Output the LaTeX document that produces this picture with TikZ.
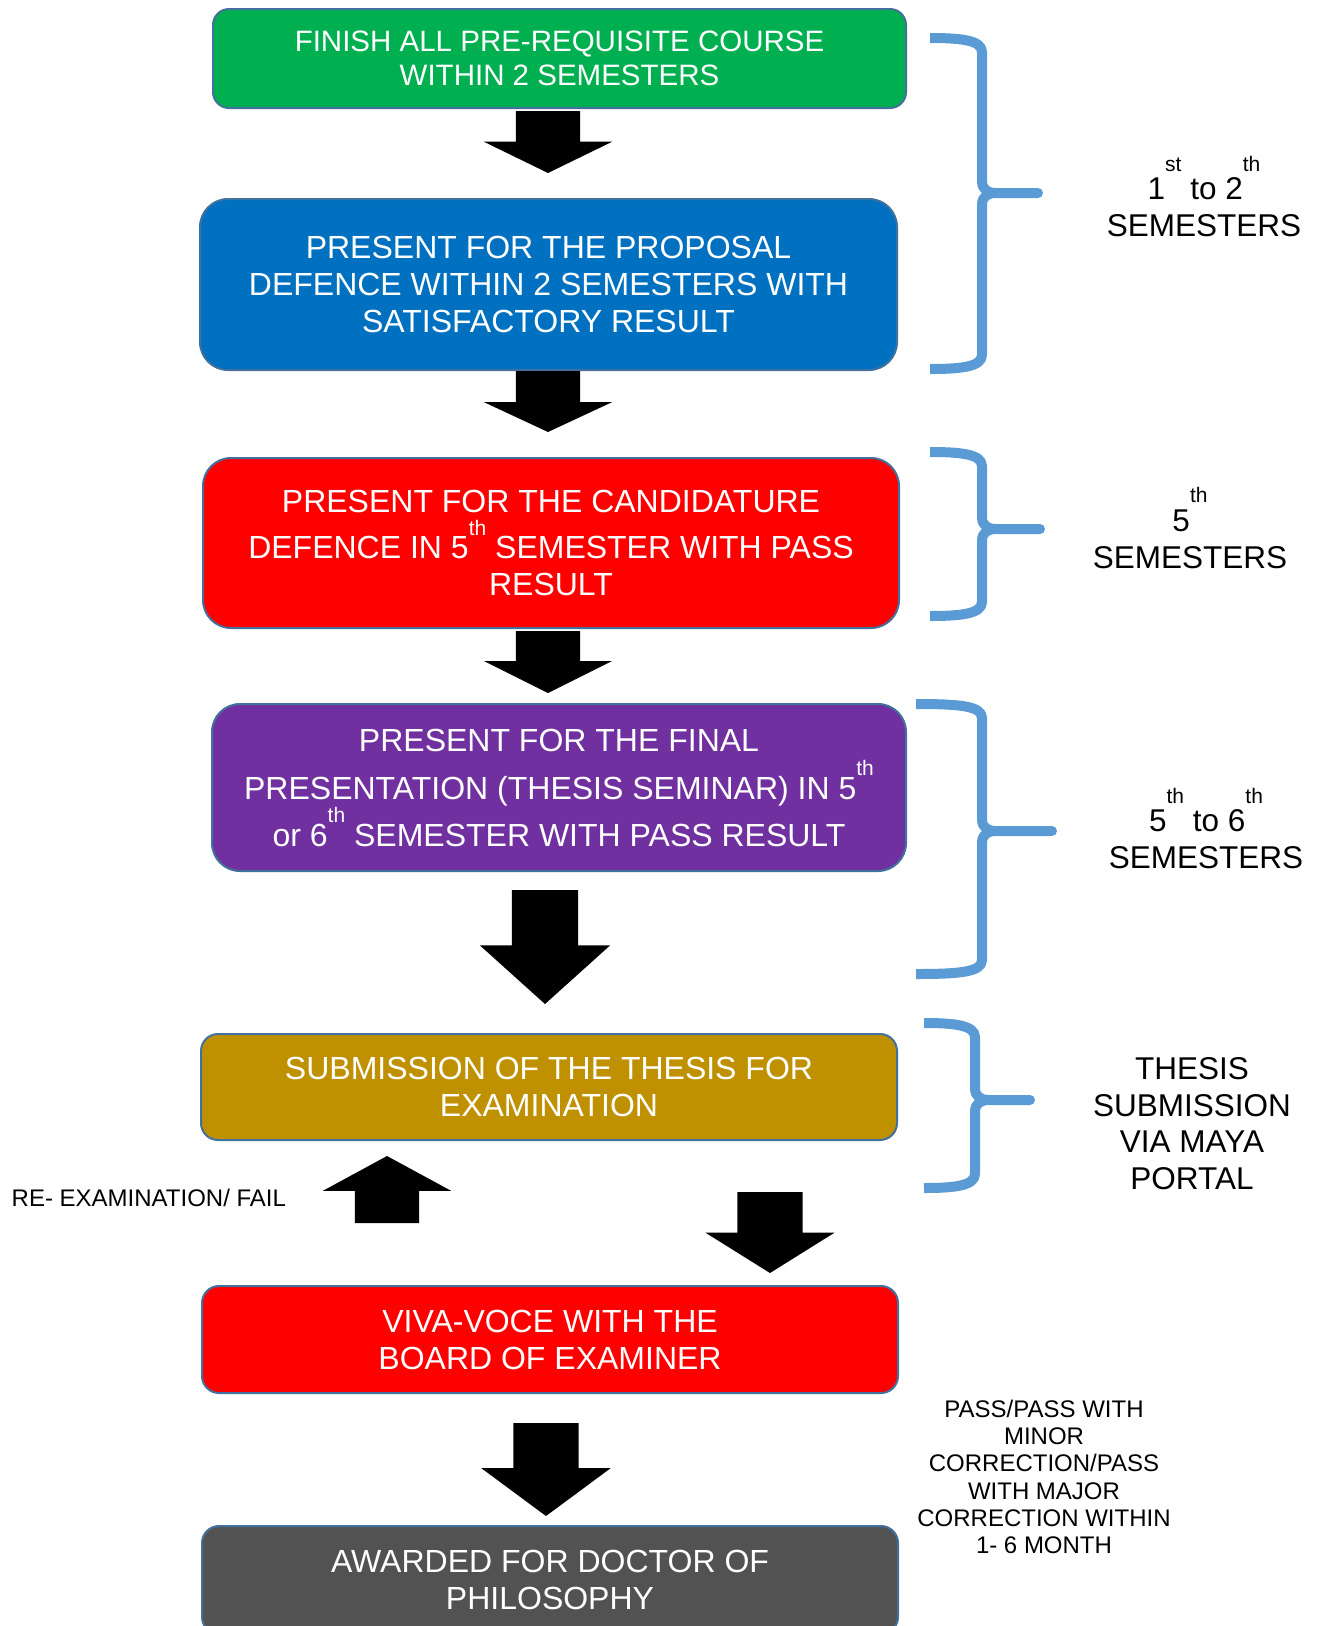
\documentclass[tikz,border=0pt]{standalone}
\usepackage{fontspec}
\setmainfont{Liberation Sans}
\usetikzlibrary{positioning,shapes.arrows}
\definecolor{stepgreen}{HTML}{00B050}
\definecolor{stepblue}{HTML}{0070C0}
\definecolor{stepred}{HTML}{FF0000}
\definecolor{steppurple}{HTML}{7030A0}
\definecolor{stepgold}{HTML}{BF9000}
\definecolor{stepgray}{HTML}{525252}
\definecolor{boxline}{HTML}{41719C}
\definecolor{bracecol}{HTML}{5B9BD5}
\newcommand\ordsup[2][0.72em]{\smash{\raisebox{#1}{\fontsize{21}{21}\selectfont #2}}}

\begin{document}
\begin{tikzpicture}[x=1pt,y=-1pt,
    stagebox/.style={rectangle,draw=boxline,line width=2pt,text=white,align=center,inner sep=0pt,outer sep=0pt,minimum width=696pt,font=\fontsize{32}{37}\selectfont},
    blockarrow/.style={single arrow,fill=black,inner sep=0pt,outer sep=0pt,minimum width=128pt,single arrow head extend=32pt,shape border rotate=270},
    semBrace/.style={draw=bracecol,line width=10pt,line join=round},
    sidenote/.style={align=center,inner sep=0pt,font=\fontsize{31.5}{37}\selectfont}]
  \useasboundingbox (0,0) rectangle (1322,1626);

  % stages
  \node[stagebox,fill=stepgreen,minimum width=693pt,minimum height=99pt,rounded corners=16pt,font=\fontsize{29.5}{34}\selectfont](Prereq) at (559.5,58.5) {FINISH ALL PRE-REQUISITE COURSE\\WITHIN 2 SEMESTERS};
  \node[stagebox,fill=stepblue,below=91pt of Prereq,xshift=-11pt,minimum width=697pt,minimum height=171pt,rounded corners=28pt](Proposal) {PRESENT FOR THE PROPOSAL\\DEFENCE WITHIN 2 SEMESTERS WITH\\SATISFACTORY RESULT};
  \node[stagebox,fill=stepred,below=88pt of Proposal,xshift=2.5pt,minimum height=170pt,rounded corners=28pt](Candidature) {PRESENT FOR THE CANDIDATURE\\[9pt]DEFENCE IN 5\ordsup{th} SEMESTER WITH PASS\\RESULT};
  \node[stagebox,fill=steppurple,below=76pt of Candidature,xshift=8pt,minimum width=694pt,minimum height=167pt,rounded corners=28pt](FinalPres) {PRESENT FOR THE FINAL\\[11pt]PRESENTATION (THESIS SEMINAR) IN 5\ordsup{th}\\[10pt]or 6\ordsup{th} SEMESTER WITH PASS RESULT};
  \node[stagebox,fill=stepgold,below=163pt of FinalPres,xshift=-10pt,minimum height=106pt,rounded corners=17pt](Submission) {SUBMISSION OF THE THESIS FOR\\EXAMINATION};
  \node[stagebox,fill=stepred,below=146pt of Submission,xshift=1pt,minimum height=107pt,rounded corners=17pt](VivaVoce) {VIVA-VOCE WITH THE\\BOARD OF EXAMINER};
  \node[stagebox,fill=stepgray,below=133pt of VivaVoce,minimum height=108pt,rounded corners=17pt](Awarded) {AWARDED FOR DOCTOR OF\\PHILOSOPHY};

  % block arrows (the rule gives the shaft its width)
  \node[blockarrow,anchor=tail,minimum height=62pt,single arrow tip angle=128](ArrowA) at ([xshift=-11.5pt,yshift=-3pt]Prereq.south) {\rule{64pt}{0pt}};
  \node[blockarrow,anchor=tail,minimum height=61pt,single arrow tip angle=130](ArrowB) at ([xshift=-0.5pt,yshift=-1pt]Proposal.south) {\rule{64pt}{0pt}};
  \node[blockarrow,anchor=tail,minimum height=62pt,single arrow tip angle=127](ArrowC) at ([xshift=-3pt,yshift=-3pt]Candidature.south) {\rule{64pt}{0pt}};
  \node[blockarrow,anchor=tail,minimum height=114pt,minimum width=126pt,single arrow tip angle=96](ArrowD) at ([xshift=-14pt,yshift=-19pt]FinalPres.south) {\rule{66pt}{0pt}};
  \node[blockarrow,anchor=tip,shape border rotate=90,minimum height=67pt,minimum width=126pt,single arrow tip angle=123](ArrowFail) at ([xshift=-162pt,yshift=-16pt]Submission.south) {\rule{64pt}{0pt}};
  \node[blockarrow,anchor=tail,minimum height=81pt,minimum width=127pt,single arrow tip angle=116](ArrowViva) at ([xshift=221pt,yshift=-52pt]Submission.south) {\rule{65pt}{0pt}};
  \node[blockarrow,anchor=tail,minimum height=93pt,single arrow tip angle=107](ArrowE) at ([xshift=-4pt,yshift=-30pt]VivaVoce.south) {\rule{65pt}{0pt}};

  % braces and notes
  \foreach \xa/\xb/\xc/\ya/\ym/\yb in {930/982/1038/38/193/369, 930/982/1040/452/529/616, 916/982/1052/704/831/974, 924/975/1030/1023/1100/1188}
    \draw[semBrace] (\xa,\ya) .. controls (\xb-22,\ya) and (\xb,\ya+2) .. (\xb,\ya+14) -- (\xb,\ym-12)
       .. controls (\xb,\ym-3) and (\xb+6,\ym) .. (\xb+14,\ym) -- (\xc,\ym) -- (\xb+14,\ym)
       .. controls (\xb+6,\ym) and (\xb,\ym+3) .. (\xb,\ym+12) -- (\xb,\yb-14)
       .. controls (\xb,\yb-2) and (\xb-22,\yb) .. (\xa,\yb);

  \node[sidenote](SemOneTwo) at (1204,207) {1\ordsup[0.9em]{st} to 2\ordsup[0.9em]{th}\\SEMESTERS};
  \node[sidenote](SemFive) at (1190,539) {5\ordsup[0.9em]{th}\\SEMESTERS};
  \node[sidenote](SemFiveSix) at (1206,839.5) {5\ordsup[0.9em]{th} to 6\ordsup[0.9em]{th}\\SEMESTERS};
  \node[sidenote,font=\fontsize{31.5}{36.7}\selectfont](Portal) at (1192,1123.7) {THESIS\\SUBMISSION\\VIA MAYA\\PORTAL};
  \node[sidenote,font=\fontsize{24}{27.3}\selectfont](PassNote) at (1044,1477) {PASS/PASS WITH\\MINOR\\CORRECTION/PASS\\WITH MAJOR\\CORRECTION WITHIN\\1- 6 MONTH};
  \node[anchor=base west,inner sep=0pt,font=\fontsize{24}{27}\selectfont](FailNote) at (11.5,1206) {RE- EXAMINATION/ FAIL};
\end{tikzpicture}
\end{document}
